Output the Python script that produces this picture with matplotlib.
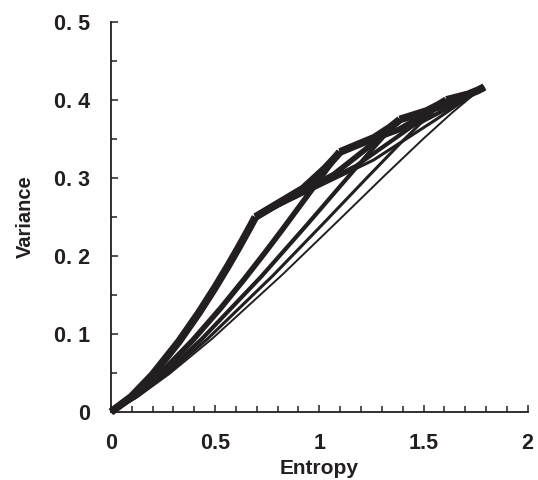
import matplotlib
matplotlib.use("Agg")
import matplotlib.pyplot as plt
from matplotlib.ticker import MultipleLocator

# Entropy (x) / variance (y) curves between states 1..6
h_1_2 = [0, 0.0980, 0.1985, 0.3251, 0.4227, 0.5004, 0.5623, 0.6109, 0.6474, 0.6730, 0.6881, 0.6931]
v_1_2 = [0, 0.0196, 0.0475, 0.0900, 0.1275, 0.1600, 0.1875, 0.2100, 0.2275, 0.2400, 0.2475, 0.2500]
h_1_3 = [0, 0.1119, 0.2332, 0.3944, 0.5267, 0.6390, 0.7356, 0.8188, 0.9503, 1.0397, 1.0889, 1.0986]
v_1_3 = [0, 0.0197, 0.0481, 0.0925, 0.1331, 0.1700, 0.2031, 0.2325, 0.2800, 0.3125, 0.3300, 0.3333]
h_1_4 = [0, 0.1200, 0.2534, 0.4350, 0.7201, 0.9405, 1.1124, 1.2425, 1.3322, 1.3799, 1.3863]
v_1_4 = [0, 0.0197, 0.0483, 0.0933, 0.1733, 0.2400, 0.2933, 0.3333, 0.3600, 0.3733, 0.3750]
h_1_5 = [0, 0.1257, 0.2678, 0.4637, 0.7777, 1.0268, 1.2275, 1.3863, 1.5048, 1.5813, 1.6020, 1.6094]
v_1_5 = [0, 0.0198, 0.0484, 0.0938, 0.1750, 0.2438, 0.3000, 0.3438, 0.3750, 0.3938, 0.3984, 0.4000]
h_1_6 = [0, 0.1302, 0.2790, 0.4860, 0.8223, 1.0937, 1.3168, 1.4979, 1.6387, 1.7375, 1.7880, 1.7918]
v_1_6 = [0, 0.0198, 0.0485, 0.0940, 0.1760, 0.2460, 0.3040, 0.3500, 0.3840, 0.4060, 0.4160, 0.4167]

h_2_3 = [0.6931, 0.9222, 1.0282, 1.0822, 1.0986]
v_2_3 = [0.2500, 0.2865, 0.3125, 0.3281, 0.3333]
h_2_4 = [0.6931, 1.0699, 1.2555, 1.3547, 1.3863]
v_2_4 = [0.2500, 0.3047, 0.3438, 0.3672, 0.3750]
h_2_5 = [0.6931, 1.1767, 1.4257, 1.5637, 1.6094]
v_2_5 = [0.2500, 0.3156, 0.3625, 0.3906, 0.4000]
h_2_6 = [0.6931, 1.2592, 1.5607, 1.7329, 1.7918]
v_2_6 = [0.2500, 0.3229, 0.3750, 0.4063, 0.4167]
h_3_4 = [1.0986, 1.2637, 1.3381, 1.3752, 1.3863]
v_3_4 = [0.3333, 0.3516, 0.3646, 0.3724, 0.3750]
h_3_5 = [1.0986, 1.3831, 1.5179, 1.5878, 1.6094]
v_3_5 = [0.3333, 0.3625, 0.3833, 0.3958, 0.4000]
h_3_6 = [1.0986, 1.4754, 1.6609, 1.7602, 1.7918]
v_3_6 = [0.3333, 0.3698, 0.3958, 0.4115, 0.4167]
h_4_5 = [1.3863, 1.5155, 1.5727, 1.6011, 1.6094]
v_4_5 = [0.3750, 0.3859, 0.3938, 0.3984, 0.4000]
h_4_6 = [1.3863, 1.6154, 1.7213, 1.7753, 1.7918]
v_4_6 = [0.3750, 0.3932, 0.4063, 0.4141, 0.4167]
h_5_6 = [1.6094, 1.7155, 1.7622, 1.7850, 1.7918]
v_5_6 = [0.4000, 0.4073, 0.4125, 0.4156, 0.4167]

x_ticks = [0, 0.5, 1, 1.5, 2]
x_tick_labels = ["0", "0.5", "1", "1.5", "2"]
y_ticks = [0, 0.1, 0.2, 0.3, 0.4, 0.5]
y_tick_labels = ["0", "0. 1", "0. 2", "0. 3", "0. 4", "0. 5"]

curves = [
    (h_1_2, v_1_2, 1), (h_1_3, v_1_3, 2), (h_1_4, v_1_4, 3), (h_1_5, v_1_5, 4), (h_1_6, v_1_6, 5),
    (h_2_3, v_2_3, 1), (h_2_4, v_2_4, 2), (h_2_5, v_2_5, 3), (h_2_6, v_2_6, 4),
    (h_3_4, v_3_4, 1), (h_3_5, v_3_5, 2), (h_3_6, v_3_6, 3),
    (h_4_5, v_4_5, 1), (h_4_6, v_4_6, 2),
    (h_5_6, v_5_6, 1),
]
widths = {1: 5.6, 2: 4.0, 3: 3.0, 4: 2.2, 5: 1.4}

ink = "#231f20"
fig = plt.figure(figsize=(5.38, 4.80), dpi=100)
ax = fig.add_axes([0.2063, 0.1417, 0.7745, 0.8125])

for hx, vy, jump in curves:
    ax.plot(hx, vy, color=ink, lw=widths[jump], solid_joinstyle="round",
            solid_capstyle="butt", clip_on=False)

ax.set_xlim(0, 2)
ax.set_ylim(0, 0.5)
for side in ("top", "right"):
    ax.spines[side].set_visible(False)
for side in ("left", "bottom"):
    ax.spines[side].set_linewidth(1.3)
    ax.spines[side].set_color(ink)

ax.set_xticks(x_ticks)
ax.set_xticklabels(x_tick_labels, fontfamily="Liberation Sans", fontweight="bold", fontsize=15.5)
ax.set_yticks(y_ticks)
ax.set_yticklabels(y_tick_labels, fontfamily="Liberation Sans", fontweight="bold", fontsize=15.5)
ax.xaxis.set_minor_locator(MultipleLocator(0.1))
ax.yaxis.set_minor_locator(MultipleLocator(0.05))
ax.tick_params(axis="both", which="major", direction="in", length=5, width=1.1, color=ink, labelcolor=ink)
ax.tick_params(axis="both", which="minor", direction="in", length=4, width=1.1, color=ink)
ax.tick_params(axis="x", which="major", pad=15)
ax.tick_params(axis="y", which="major", pad=15)

fig.text(25 / 538, 1 - 217 / 480, "Variance", rotation=90, ha="center", va="center",
         fontfamily="Liberation Sans", fontweight="bold", fontsize=14.5, color=ink)
fig.text(319.4 / 538, 1.5 / 480, "Entropy", ha="center", va="bottom",
         fontfamily="Liberation Sans", fontweight="bold", fontsize=15, color=ink)

fig.savefig("out.png", dpi=100, facecolor="white")
